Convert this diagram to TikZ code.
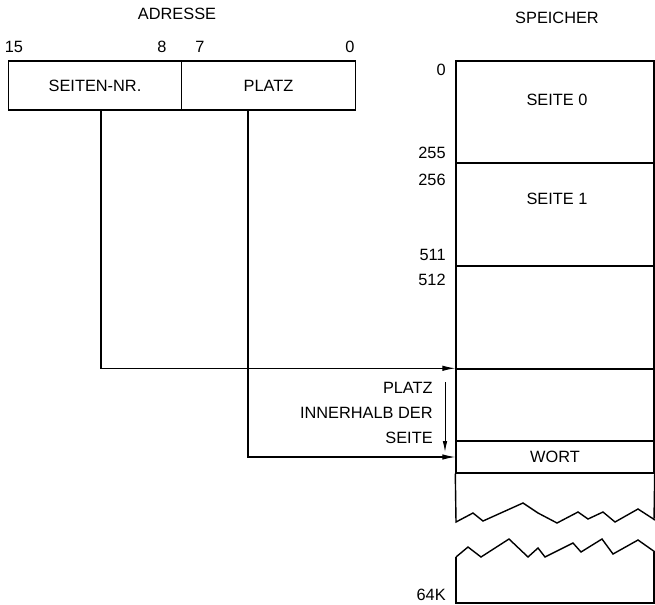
\documentclass[tikz,border=0pt]{standalone}
\usepackage{fontspec}
\setmainfont{Liberation Sans}
\usetikzlibrary{arrows.meta,positioning}

\begin{document}
\begin{tikzpicture}[x=0.2mm,y=-0.2mm,
  font=\fontsize{9.3}{11}\selectfont,
  every node/.style={align=center},
  feld/.style={draw,line width=0.8pt,minimum width=34.7mm,minimum height=9.8mm,
               inner sep=0pt},
  zelle/.style={draw,line width=0.8pt,minimum width=39.6mm,inner sep=0pt},
  nr/.style={anchor=east,inner sep=0pt},
  pfeil/.style={-{Latex[length=2.6mm,width=1.1mm]},line width=0.6pt},
  kpfeil/.style={-{Latex[length=2.2mm,width=0.9mm]},line width=0.5pt}
]
\useasboundingbox (0,0) rectangle (655,604);

% Adresse.
\node (adr) at (177,14) {ADRESSE};
\node[feld] (seitennr) at (95,85.5) {SEITEN-NR.};
\node[feld] (platz) at (268.5,85.5) {PLATZ};
\node (b15) at (14,47) {15};
\node (b8)  at (162,47) {8};
\node (b7)  at (200,47) {7};
\node (b0)  at (350,47) {0};

% Speicher.
\node (spc) at (557,18) {SPEICHER};
\node[zelle,minimum height=20.4mm] (seite0) at (555,112) {};
\node[zelle,minimum height=20.6mm] (seite1) at (555,214.5) {};
\node[zelle,minimum height=20.6mm] (seite2) at (555,317.5) {};
\node[zelle,minimum height=14.4mm] (seite3) at (555,405) {};
\node[zelle,minimum height=6.4mm] (wort) at (555,457) {WORT};
\node (t0) at (557,100) {SEITE 0};
\node (t1) at (557,199) {SEITE 1};

\node[nr] (a0)   at (446,70)  {0};
\node[nr] (a255) at (446,153) {255};
\node[nr] (a256) at (446,180) {256};
\node[nr] (a511) at (446,255) {511};
\node[nr] (a512) at (446,280) {512};
\node[nr] (a64k) at (446,595) {64K};

% Abgebrochener Teil.
\draw[line width=0.8pt] (wort.south west) -- (456,522) -- (473,513) -- (483,521)
  -- (523,503) -- (538,513) -- (557,523) -- (578,512) -- (588,519) -- (603,512)
  -- (615,522) -- (638,509) -- (655,520);
\draw[line width=0.8pt] (wort.south east) -- (654,520);
\draw[line width=0.8pt] (456,557) -- (468,547) -- (481,557) -- (509,539) -- (528,557)
  -- (538,548) -- (545,557) -- (573,543) -- (581,552) -- (602,539) -- (613,554)
  -- (638,540) -- (655,552);
\draw[line width=0.8pt] (456,557) -- (456,603) -- (654,603) -- (654,552);

% Pfeile.
\draw[pfeil] ([xshift=1.2mm]seitennr.south) |- (seite3.north west);
\draw[pfeil] ([xshift=-4.1mm]platz.south) |- (wort.west);

\coordinate (ab) at (445,382);
\coordinate (an) at (445,452);
\draw[kpfeil] (ab) -- (an);
\node[anchor=east,align=right,font=\fontsize{9.3}{14.2}\selectfont,inner sep=0pt]
  (innerh) at (433,413) {PLATZ\\INNERHALB DER\\SEITE};
\end{tikzpicture}
\end{document}
